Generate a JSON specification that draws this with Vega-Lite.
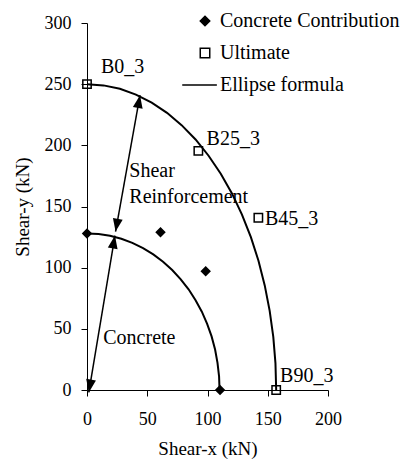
{
  "$schema": "https://vega.github.io/schema/vega-lite/v6.json",
  "width": 241,
  "height": 367,
  "autosize": {"type": "none"},
  "padding": {"left": 87, "top": 23, "right": 88, "bottom": 72},
  "background": "white",
  "config": {
    "view": {"stroke": null},
    "font": "Liberation Serif",
    "axis": {
      "grid": false,
      "labelFlush": false,
      "domainColor": "black",
      "domainWidth": 1,
      "tickColor": "black",
      "tickWidth": 1,
      "tickSize": 6,
      "labelFont": "Liberation Serif",
      "labelFontSize": 18,
      "labelColor": "black",
      "titleFont": "Liberation Serif",
      "titleFontSize": 19,
      "titleFontWeight": "normal",
      "titleColor": "black"
    },
    "legend": {
      "title": null,
      "orient": "none",
      "legendX": 108,
      "legendY": -12,
      "padding": 0,
      "labelFont": "Liberation Serif",
      "labelFontSize": 20,
      "labelColor": "black",
      "labelLimit": 400,
      "labelOffset": 5,
      "symbolSize": 90,
      "symbolStrokeColor": "black",
      "symbolStrokeWidth": 1.5,
      "rowPadding": 12
    }
  },
  "datasets": {
    "curves": [
      {"curve": "outer", "x": 157, "y": 0},
      {"curve": "outer", "x": 156.4, "y": 21.8},
      {"curve": "outer", "x": 154.6, "y": 43.4},
      {"curve": "outer", "x": 151.6, "y": 64.7},
      {"curve": "outer", "x": 147.5, "y": 85.5},
      {"curve": "outer", "x": 142.3, "y": 105.7},
      {"curve": "outer", "x": 136.0, "y": 125.0},
      {"curve": "outer", "x": 128.6, "y": 143.4},
      {"curve": "outer", "x": 120.3, "y": 160.7},
      {"curve": "outer", "x": 111.0, "y": 176.8},
      {"curve": "outer", "x": 100.9, "y": 191.5},
      {"curve": "outer", "x": 90.1, "y": 204.8},
      {"curve": "outer", "x": 78.5, "y": 216.5},
      {"curve": "outer", "x": 66.4, "y": 226.6},
      {"curve": "outer", "x": 53.7, "y": 234.9},
      {"curve": "outer", "x": 40.6, "y": 241.5},
      {"curve": "outer", "x": 27.3, "y": 246.2},
      {"curve": "outer", "x": 13.7, "y": 249.0},
      {"curve": "outer", "x": 0, "y": 250},
      {"curve": "inner", "x": 110, "y": 0},
      {"curve": "inner", "x": 109.6, "y": 11.2},
      {"curve": "inner", "x": 108.3, "y": 22.2},
      {"curve": "inner", "x": 106.3, "y": 33.1},
      {"curve": "inner", "x": 103.4, "y": 43.8},
      {"curve": "inner", "x": 99.7, "y": 54.1},
      {"curve": "inner", "x": 95.3, "y": 64.0},
      {"curve": "inner", "x": 90.1, "y": 73.4},
      {"curve": "inner", "x": 84.3, "y": 82.3},
      {"curve": "inner", "x": 77.8, "y": 90.5},
      {"curve": "inner", "x": 70.7, "y": 98.1},
      {"curve": "inner", "x": 63.1, "y": 104.9},
      {"curve": "inner", "x": 55.0, "y": 110.9},
      {"curve": "inner", "x": 46.5, "y": 116.0},
      {"curve": "inner", "x": 37.6, "y": 120.3},
      {"curve": "inner", "x": 28.5, "y": 123.6},
      {"curve": "inner", "x": 19.1, "y": 126.1},
      {"curve": "inner", "x": 9.6, "y": 127.5},
      {"curve": "inner", "x": 0, "y": 128}
    ],
    "points": [
      {"series": "Concrete Contribution", "x": 0, "y": 128},
      {"series": "Concrete Contribution", "x": 61, "y": 129},
      {"series": "Concrete Contribution", "x": 98.5, "y": 97},
      {"series": "Concrete Contribution", "x": 110.4, "y": 0},
      {"series": "Ultimate", "x": 0, "y": 250},
      {"series": "Ultimate", "x": 92.4, "y": 195.5},
      {"series": "Ultimate", "x": 142.2, "y": 140.8},
      {"series": "Ultimate", "x": 157, "y": 0}
    ],
    "arrows": [
      {"arrow": "Concrete", "x": 1.5, "y": -2, "x2": 23.2, "y2": 126.2},
      {"arrow": "Shear Reinforcement", "x": 23.7, "y": 129.5, "x2": 44, "y2": 241}
    ],
    "notes": [
      {"text": "B0_3", "x": 11.6, "y": 263.9},
      {"text": "B25_3", "x": 99.2, "y": 205.1},
      {"text": "B45_3", "x": 147.7, "y": 140.1},
      {"text": "B90_3", "x": 160.2, "y": 11.4},
      {"text": "Shear", "x": 35.1, "y": 179.2},
      {"text": "Reinforcement", "x": 35.1, "y": 157.9},
      {"text": "Concrete", "x": 13.5, "y": 42.2}
    ]
  },
  "layer": [
    {
      "data": {"name": "curves"},
      "mark": {"type": "line", "color": "black", "strokeWidth": 2},
      "encoding": {
        "x": {"field": "x", "type": "quantitative", "scale": {"domain": [0, 200], "nice": false},
              "axis": {"values": [0, 50, 100, 150, 200], "title": "Shear-x  (kN)", "labelPadding": 14, "titlePadding": 11}},
        "y": {"field": "y", "type": "quantitative", "scale": {"domain": [0, 300], "nice": false},
              "axis": {"values": [0, 50, 100, 150, 200, 250, 300], "title": "Shear-y (kN)", "labelPadding": 10, "titlePadding": 12}},
        "detail": {"field": "curve", "type": "nominal"}
      }
    },
    {
      "data": {"name": "arrows"},
      "mark": {"type": "rule", "color": "black", "strokeWidth": 1.5},
      "encoding": {
        "x": {"field": "x", "type": "quantitative"},
        "y": {"field": "y", "type": "quantitative"},
        "x2": {"field": "x2"},
        "y2": {"field": "y2"}
      }
    },
    {
      "data": {"name": "arrows"},
      "mark": {"type": "point", "shape": "M0,0L-0.38,1L0.38,1Z", "size": 676, "angle": 10, "filled": true, "color": "black", "opacity": 1},
      "encoding": {
        "x": {"field": "x2", "type": "quantitative"},
        "y": {"field": "y2", "type": "quantitative"}
      }
    },
    {
      "data": {"name": "arrows"},
      "mark": {"type": "point", "shape": "M0,0L-0.38,1L0.38,1Z", "size": 676, "angle": 190, "filled": true, "color": "black", "opacity": 1},
      "encoding": {
        "x": {"field": "x", "type": "quantitative"},
        "y": {"field": "y", "type": "quantitative"}
      }
    },
    {
      "data": {"name": "points"},
      "mark": {"type": "point", "filled": true, "strokeWidth": 1.5, "size": 70, "opacity": 1},
      "encoding": {
        "x": {"field": "x", "type": "quantitative"},
        "y": {"field": "y", "type": "quantitative"},
        "shape": {
          "field": "series", "type": "nominal",
          "scale": {"domain": ["Concrete Contribution", "Ultimate", "Ellipse formula"], "range": ["diamond", "square", "M-4.8,0L2.5,0"]}
        },
        "fill": {
          "field": "series", "type": "nominal",
          "scale": {"domain": ["Concrete Contribution", "Ultimate", "Ellipse formula"], "range": ["black", "transparent", "transparent"]}
        },
        "stroke": {
          "field": "series", "type": "nominal",
          "scale": {"domain": ["Concrete Contribution", "Ultimate", "Ellipse formula"], "range": ["black", "black", "black"]}
        }
      }
    },
    {
      "data": {"name": "notes"},
      "mark": {"type": "text", "align": "left", "baseline": "middle", "font": "Liberation Serif", "fontSize": 20, "color": "black"},
      "encoding": {
        "x": {"field": "x", "type": "quantitative"},
        "y": {"field": "y", "type": "quantitative"},
        "text": {"field": "text", "type": "nominal"}
      }
    }
  ]
}
